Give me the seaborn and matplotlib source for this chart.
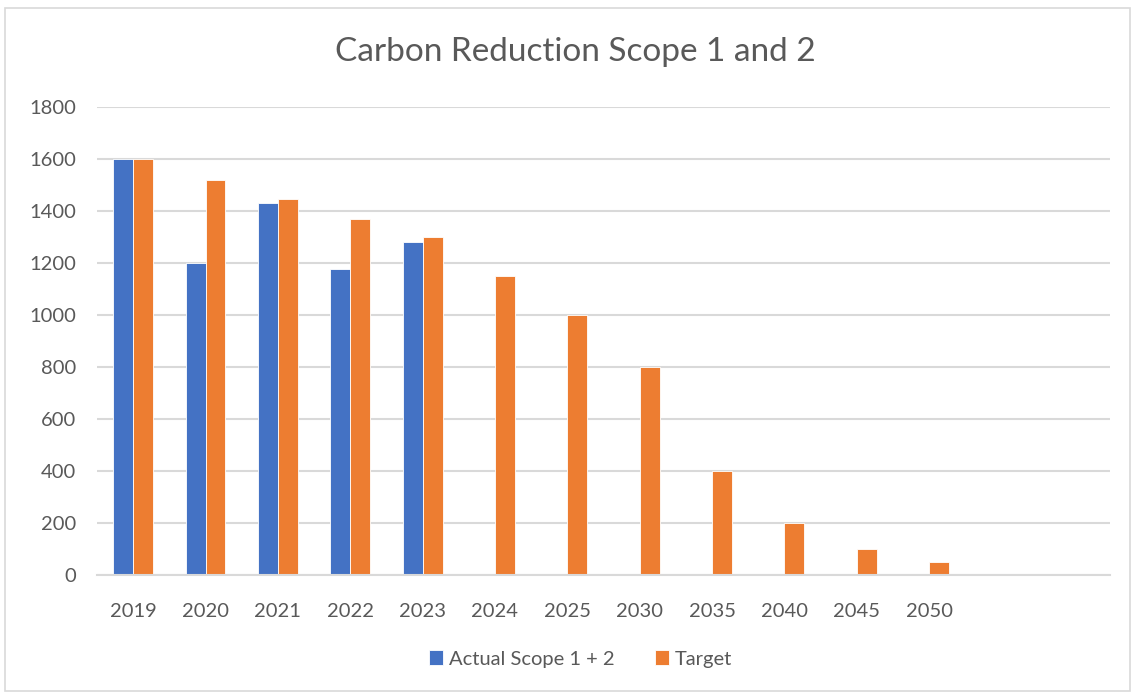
import pandas as pd
import numpy as np
import matplotlib
matplotlib.use("Agg")
import matplotlib.pyplot as plt
import seaborn as sns
from matplotlib.patches import Rectangle

# Data
years = ["2019", "2020", "2021", "2022", "2023", "2024", "2025",
         "2030", "2035", "2040", "2045", "2050"]
actual = [1600, 1200, 1430, 1175, 1280, np.nan, np.nan,
          np.nan, np.nan, np.nan, np.nan, np.nan]
target = [1600, 1520, 1445, 1370, 1300, 1150, 1000,
          800, 400, 200, 100, 50]
# two empty category slots at the end of the axis
empty_slots = ["", " "]
series_names = ["Actual Scope 1 + 2", "Target"]
colors = ["#4472C4", "#ED7D31"]

df = pd.DataFrame({"Year": years, series_names[0]: actual, series_names[1]: target})
long_df = df.melt(id_vars="Year", var_name="Series", value_name="Value")

sns.set_style("white")
plt.rcParams["font.family"] = ["Lato", "DejaVu Sans"]
text_color = "#595959"
grid_color = "#D9D9D9"

fig = plt.figure(figsize=(11.32, 6.93), dpi=100)
ax = fig.add_axes([0.0857, 0.1703, 0.8949, 0.6753])

sns.barplot(data=long_df, x="Year", y="Value", hue="Series",
            order=years + empty_slots, hue_order=series_names,
            palette=colors, saturation=1, width=0.55, edgecolor="white", linewidth=0.6,
            errorbar=None, ax=ax)

ax.set_ylim(0, 1800)
ax.set_xlim(-0.5, len(years) + len(empty_slots) - 0.5)
ax.set_yticks(range(0, 1801, 200))
ax.yaxis.grid(True, color=grid_color, linewidth=1.5)
ax.set_axisbelow(True)
for s in ["top", "right", "left"]:
    ax.spines[s].set_visible(False)
ax.spines["bottom"].set_color(grid_color)
ax.spines["bottom"].set_linewidth(1.5)
ax.tick_params(axis="both", length=0, labelsize=14.5, colors=text_color)
ax.tick_params(axis="y", pad=15)
ax.tick_params(axis="x", pad=20)
ax.set_xlabel("")
ax.set_ylabel("")

fig.text(0.508, 0.925, "Carbon Reduction Scope 1 and 2", ha="center", va="center",
         fontsize=24, color=text_color)

ax.legend(loc="center", bbox_to_anchor=(0.513, 0.049), bbox_transform=fig.transFigure,
          ncol=2, frameon=False, fontsize=14.5, labelcolor=text_color,
          handlelength=0.7, handleheight=0.7, handletextpad=0.3, columnspacing=2.0)
# the chart frame
fig.patches.append(Rectangle((0.004, 0.003), 0.994, 0.986, transform=fig.transFigure,
                             fill=False, edgecolor="#D9D9D9", linewidth=1.2))

fig.savefig("out.png", dpi=100)
